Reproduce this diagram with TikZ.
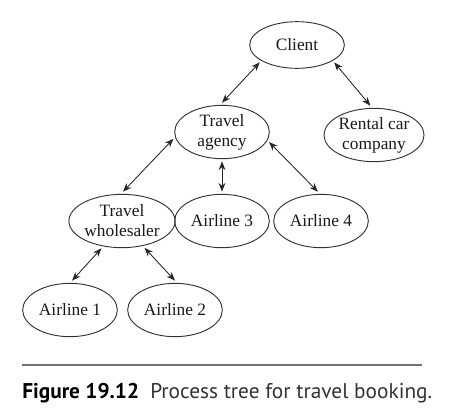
\documentclass[tikz,border=0pt]{standalone}
\usepackage{fontspec}
\setmainfont{Liberation Serif}
\newfontfamily\capfont{PT Sans}
\usepackage{xcolor}
\usepackage{tikz}
\usetikzlibrary{arrows.meta, positioning, shapes.geometric}

\begin{document}
\begin{tikzpicture}[
    x=0.75pt, y=-0.75pt,
    font=\fontsize{13}{15}\selectfont,
    on grid,
    proc/.style={ellipse, draw=black!80, line width=0.7pt, inner sep=0pt, outer sep=2pt, minimum width=71pt, minimum height=40pt, align=center, text=black!90},
    link/.style={{Stealth[length=6.5pt,width=5pt]}-{Stealth[length=6.5pt,width=5pt]}, line width=0.65pt, black!85},
]
    \useasboundingbox (0,0) rectangle (449,414);

    % Client
    \node[proc, minimum height=35pt] (client) at (297,45) {Client};

    % Second level
    \node[proc, below left=65.25pt and 56.25pt of client] (agency) {Travel\\agency};
    \node[proc, below right=67.5pt and 57.75pt of client] (rental) {Rental car\\company};

    % Third level
    \node[proc, below left=66.75pt and 75pt of agency] (wholesaler) {Travel\\wholesaler};
    \node[proc, below=66.75pt of agency] (airline3) {Airline 3};
    \node[proc, right=74.25pt of airline3] (airline4) {Airline 4};

    % Fourth level
    \node[proc, below left=66.75pt and 39pt of wholesaler] (airline1) {Airline 1};
    \node[proc, right=78.75pt of airline1] (airline2) {Airline 2};

    % Arrows
    \draw[link] (client.205) -- (agency.90);
    \draw[link] (client.335) -- (rental.97);
    \draw[link] (agency.188) -- (wholesaler.88);
    \draw[link] (agency.270) -- (airline3.90);
    \draw[link] (agency.348) -- (airline4.96);
    \draw[link] (wholesaler.233) -- (airline1.86);
    \draw[link] (wholesaler.310) -- (airline2.90);

    % Caption
    \coordinate (ruleL) at (22,365);
    \coordinate (ruleR) at (422,365);
    \draw[black!55, line width=0.8pt] (ruleL) -- (ruleR);
    \node[anchor=base west, inner sep=0pt, font=\capfont\fontsize{16}{18}\selectfont\bfseries] (figlabel) at (22,398) {Figure 19.12};
    \node[anchor=base west, inner sep=0pt, font=\capfont\fontsize{16}{18}\selectfont, text=black!80] (figtext) at (150,398) {Process tree for travel booking.};
\end{tikzpicture}
\end{document}
